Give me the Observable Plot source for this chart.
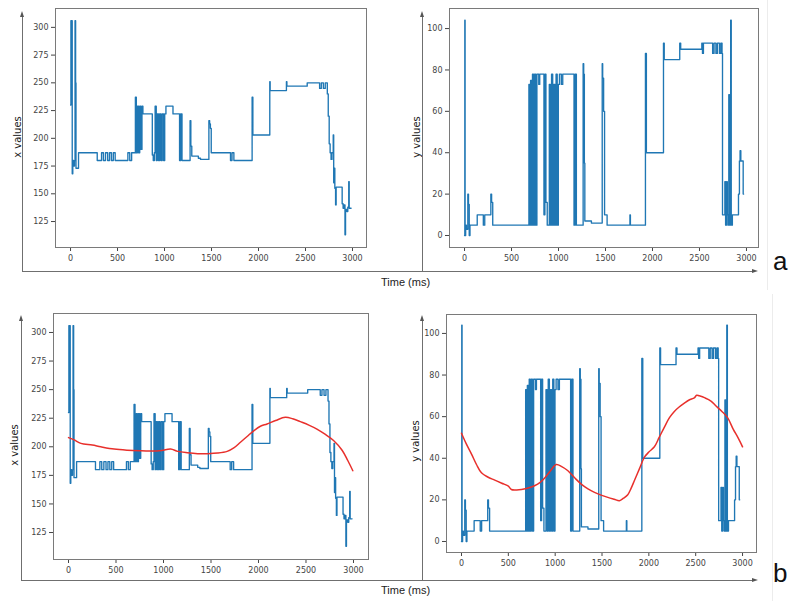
<!DOCTYPE html>
<html><head><meta charset="utf-8">
<script src="https://cdn.jsdelivr.net/npm/d3@7"></script>
<script src="https://cdn.jsdelivr.net/npm/@observablehq/plot@0.6"></script>
<style>
html,body{margin:0;padding:0;background:#fff;}
#fig{position:relative;width:788px;height:601px;overflow:hidden;font-family:"Liberation Sans",Arial,sans-serif;background:#fff;}
.hl{position:absolute;height:0;border-top:1px solid #6f6f6f;}
.vl{position:absolute;width:0;border-left:1px solid #6f6f6f;}
.au{position:absolute;width:0;height:0;border-left:2.5px solid transparent;border-right:2.5px solid transparent;border-bottom:6px solid #555;}
.ar{position:absolute;width:0;height:0;border-top:2.5px solid transparent;border-bottom:2.5px solid transparent;border-left:6px solid #555;}
.faint{position:absolute;width:0;border-left:1px solid #ececec;}
.tl{position:absolute;font-size:11px;color:#222;white-space:nowrap;}
.big{position:absolute;font-size:26px;color:#111;line-height:1;}
.yl{position:absolute;font-family:"DejaVu Sans",sans-serif;font-size:10px;color:#222;white-space:nowrap;transform:translate(-50%,-50%) rotate(-90deg);}
</style>
</head><body>
<div id="fig"></div>
<script>
// ---- data ----
const timeTicks = [0, 500, 1000, 1500, 2000, 2500, 3000];
const xValueTicks = [125, 150, 175, 200, 225, 250, 275, 300];
const yValueTicks = [0, 20, 40, 60, 80, 100];

const xTimes = [0,4,9,14,18,24,32,42,48,54,58,85,284,330,350,372,395,415,435,455,475,610,630,650,690,700,712,724,736,748,760,770,870,880,892,900,912,922,936,948,962,975,990,1002,1015,1090,1160,1172,1186,1272,1280,1290,1360,1383,1472,1480,1488,1497,1702,1718,1738,1932,1940,2120,2124,2297,2302,2518,2650,2668,2690,2710,2732,2742,2752,2762,2772,2782,2795,2800,2806,2812,2820,2826,2890,2900,2910,2920,2926,2940,2950,2960,2965,2985];
const xValues = [230,306,232,306,168,180,175,180,306,250,173,187,180,187,180,187,180,187,180,187,180,187,180,187,237,187,229,187,229,190,229,222,185,180,187,229,180,222,180,222,180,222,180,222,229,222,180,222,180,216,193,184,182,181,216,213,209,187,180,187,180,237,203,251,243,251,247,250,245,250,245,250,240,220,195,187,181,187,203,160,173,155,140,156,141,137,140,113,136,134,138,161,137,137];

const yTimes = [0,3,6,12,20,35,42,50,58,135,200,215,280,288,300,685,693,703,713,723,733,745,757,770,790,800,845,855,866,880,902,914,926,938,950,962,974,986,998,1010,1030,1045,1165,1177,1190,1262,1268,1275,1280,1350,1465,1470,1480,1490,1517,1760,1765,1925,1935,2117,2125,2290,2300,2525,2532,2542,2640,2655,2675,2690,2712,2727,2740,2745,2770,2778,2788,2796,2804,2812,2820,2832,2838,2850,2915,2925,2932,2940,2965,2970];
const yValues = [0,104,0,5,3,20,15,0,5,10,5,10,20,16,5,73,5,75,5,78,5,78,5,78,73,78,10,78,16,5,73,5,78,5,73,5,78,5,73,78,73,78,5,78,5,83,78,35,7,6,83,76,60,10,5,10,5,88,40,93,85,93,90,93,88,93,88,93,88,93,88,93,88,10,26,5,26,10,5,68,5,104,5,10,20,36,41,36,20,20];

const smoothXTimes = [0,60,130,250,340,480,620,750,865,980,1075,1150,1250,1360,1460,1570,1670,1740,1810,1880,1950,2020,2090,2180,2282,2360,2440,2530,2615,2700,2790,2880,2940,2993];
const smoothXValues = [208,206,203,201.5,200,198,197,196.5,196.3,196.8,198,196,194.8,194,194,194.5,196,199,204,209,214,218,220,223,225.8,224.5,222,219,215.5,211,205.5,197,188,179];

const smoothYTimes = [0,50,107,160,213,280,355,430,497,532,590,640,720,780,840,888,950,1012,1070,1136,1210,1278,1350,1420,1490,1562,1630,1686,1730,1775,1810,1846,1900,1953,2000,2059,2110,2166,2220,2272,2320,2379,2430,2485,2510,2538,2600,2663,2720,2780,2840,2900,2950,3000];
const smoothYValues = [52,47,42,37,33,31,29.5,28,26.7,25,24.8,25,25.8,26.8,28.4,30.5,34,37,36,34,30.5,27.6,25.3,23.6,22.3,21.2,20.3,19.6,20.8,22.5,25.5,29.3,35,40.5,43,45.5,50,55,59.5,62.5,64.5,66.5,68,69,70.3,70,69,67.5,65,62.5,59.5,54,50,45.5];

// ---- build ----
const toRows = (ts, vs) => ts.map((t, i) => ({t, v: vs[i]}));
const fig = document.getElementById("fig");
const fmt = d => String(d);

function panel(cfg) {
  const ml = 55, mt = 8, mr = 8, mb = 24;
  const marks = [
    Plot.axisX({ticks: timeTicks, tickFormat: fmt, tickSize: 4, tickPadding: 4, fontSize: 8, label: null, stroke: "#444"}),
    Plot.axisY({ticks: cfg.yTicks, tickFormat: fmt, tickSize: 4, tickPadding: 3, fontSize: 8, label: null, stroke: "#444"}),
    Plot.line(toRows(cfg.times, cfg.values), {x: "t", y: "v", curve: "step-after", stroke: "#1f77b4", strokeWidth: 1.35})
  ];
  if (cfg.smoothT) {
    marks.push(Plot.line(toRows(cfg.smoothT, cfg.smoothV), {x: "t", y: "v", curve: "catmull-rom", stroke: "#e8302c", strokeWidth: 1.5}));
  }
  marks.push(Plot.frame({stroke: "#7a7a7a", strokeWidth: 1}));
  const svg = Plot.plot({
    width: cfg.fw + ml + mr, height: cfg.fh + mt + mb,
    marginLeft: ml, marginTop: mt, marginRight: mr, marginBottom: mb,
    x: {domain: cfg.xDom}, y: {domain: cfg.yDom},
    style: {background: "transparent", fontFamily: "DejaVu Sans", color: "#444", overflow: "visible"},
    marks
  });
  svg.style.position = "absolute";
  svg.style.left = (cfg.fl - ml) + "px";
  svg.style.top = (cfg.ft - mt) + "px";
  fig.appendChild(svg);
  const lab = document.createElement("div");
  lab.className = "yl";
  lab.textContent = cfg.label;
  lab.style.left = cfg.lx + "px";
  lab.style.top = cfg.ly + "px";
  fig.appendChild(lab);
}

panel({fl: 55, ft: 8, fw: 311, fh: 239, xDom: [-160, 3149], yDom: [101.6, 317], yTicks: xValueTicks,
  label: "x values", lx: 17, ly: 137, times: xTimes, values: xValues});
panel({fl: 449, ft: 8, fw: 309, fh: 239, xDom: [-160, 3128], yDom: [-5.8, 109.7], yTicks: yValueTicks,
  label: "y values", lx: 416, ly: 137, times: yTimes, values: yValues});
panel({fl: 53, ft: 313, fw: 315, fh: 246, xDom: [-158, 3158], yDom: [101.4, 316.6], yTicks: xValueTicks,
  label: "x values", lx: 14, ly: 445, times: xTimes, values: xValues, smoothT: smoothXTimes, smoothV: smoothXValues});
panel({fl: 446, ft: 314, fw: 310, fh: 238, xDom: [-160, 3149], yDom: [-5.3, 109.1], yTicks: yValueTicks,
  label: "y values", lx: 415, ly: 441, times: yTimes, values: yValues, smoothT: smoothYTimes, smoothV: smoothYValues});

// ---- outer composite axes (decoration) ----
function el(cls, css, text) {
  const d = document.createElement("div");
  d.className = cls;
  Object.assign(d.style, css);
  if (text) d.textContent = text;
  fig.appendChild(d);
}
el("faint", {left: "767px", top: "0px", height: "290px"});
el("faint", {left: "772px", top: "294px", height: "307px"});
// top row
el("vl", {left: "22px", top: "15px", height: "256px"});
el("vl", {left: "422px", top: "15px", height: "256px"});
el("hl", {left: "22px", top: "271px", width: "731px"});
el("au", {left: "20px", top: "11px"});
el("au", {left: "420px", top: "11px"});
el("ar", {left: "752px", top: "269px"});
el("tl", {left: "381px", top: "276px"}, "Time (ms)");
el("big", {left: "773px", top: "248px"}, "a");
// bottom row
el("vl", {left: "21px", top: "319px", height: "261px"});
el("vl", {left: "422px", top: "319px", height: "261px"});
el("hl", {left: "21px", top: "580px", width: "732px"});
el("au", {left: "19px", top: "315px"});
el("au", {left: "420px", top: "315px"});
el("ar", {left: "752px", top: "578px"});
el("tl", {left: "381px", top: "584px"}, "Time (ms)");
el("big", {left: "773px", top: "560px"}, "b");
</script>
</body></html>
